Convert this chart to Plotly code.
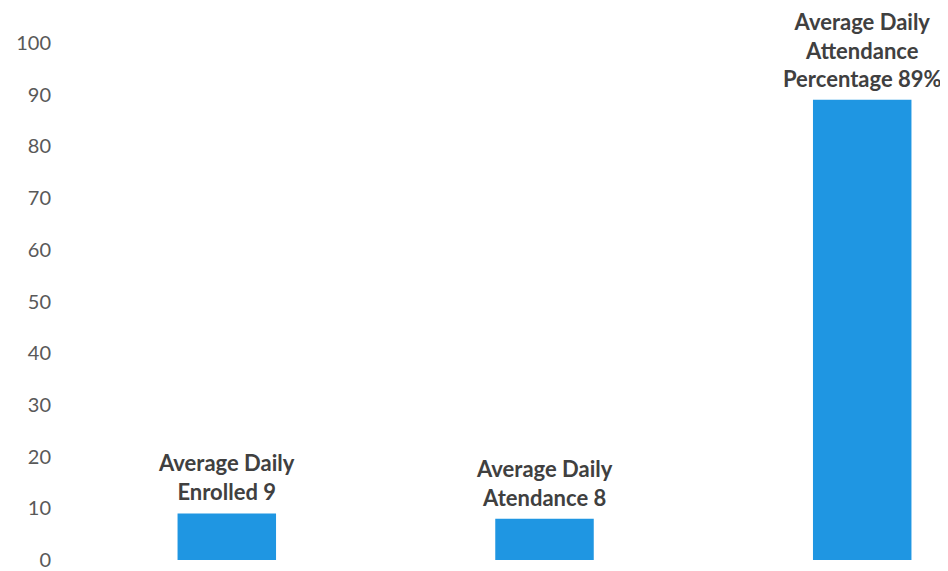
import plotly.graph_objects as go

# data
categories = ["Enrolled", "Attendance", "Percentage"]
values = [9, 8, 89]
labels = [
    "Average Daily<br>Enrolled 9",
    "Average Daily<br>Atendance 8",
    "Average Daily<br>Attendance<br>Percentage 89%",
]
y_ticks = list(range(0, 101, 10))

BAR = "#1f96e2"
TEXT = "#404040"
TICK = "#595959"

fig = go.Figure(
    go.Bar(
        x=categories,
        y=values,
        marker=dict(color=BAR, line=dict(width=0)),
        width=0.31,
        hoverinfo="x+y",
    )
)

# bold labels sitting a little above each bar
for cat, val, lab in zip(categories, values, labels):
    fig.add_annotation(
        x=cat, y=val, text=f"<b>{lab}</b>",
        showarrow=False, yanchor="bottom", yshift=6,
        font=dict(color=TEXT, size=22, family="Lato"),
    )

# page body adds an 8px offset, so the figure is a little smaller than the window
fig.update_layout(
    width=940,
    height=563,
    paper_bgcolor="white",
    plot_bgcolor="white",
    margin=dict(l=52, r=0, t=35, b=11),
    showlegend=False,
    font=dict(family="Lato", color=TICK),
    xaxis=dict(
        range=[-0.525, 2.27],
        showticklabels=False,
        showgrid=False,
        zeroline=False,
        showline=False,
    ),
    yaxis=dict(
        range=[0, 100],
        tickvals=y_ticks,
        tickfont=dict(size=20, color=TICK, family="Lato"),
        showgrid=False,
        zeroline=False,
        showline=False,
        ticklabelstandoff=8,
    ),
)

fig.write_html("out.html")
